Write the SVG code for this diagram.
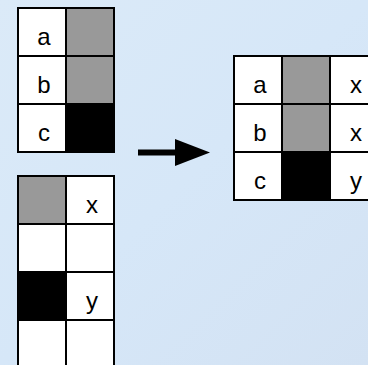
<svg xmlns="http://www.w3.org/2000/svg" width="368" height="365" viewBox="0 0 368 365">
<defs>
<linearGradient id="bg" x1="0" y1="0" x2="1" y2="1">
<stop offset="0" stop-color="#dbeaf8"/>
<stop offset="0.5" stop-color="#d6e7f8"/>
<stop offset="1" stop-color="#d3e2f3"/>
</linearGradient>
<style>
.c{stroke:#000;stroke-width:2}
.w{fill:#fff}
.g{fill:#999}
.k{fill:#000}
.t{font-family:"Comic Sans MS","Liberation Sans",sans-serif;font-size:24px;text-anchor:middle;fill:#000}
</style>
</defs>
<rect width="368" height="365" fill="url(#bg)"/>
<g id="tableA">
<rect class="c w" x="18" y="8" width="48" height="48"/>
<rect class="c g" x="66" y="8" width="48" height="48"/>
<rect class="c w" x="18" y="56" width="48" height="48"/>
<rect class="c g" x="66" y="56" width="48" height="48"/>
<rect class="c w" x="18" y="104" width="48" height="48"/>
<rect class="c k" x="66" y="104" width="48" height="48"/>
<text class="t" x="44" y="44.5">a</text>
<text class="t" x="44" y="92.5">b</text>
<text class="t" x="44" y="140.5">c</text>
</g>
<g id="tableB">
<rect class="c g" x="18" y="176" width="48" height="48"/>
<rect class="c w" x="66" y="176" width="48" height="48"/>
<rect class="c w" x="18" y="224" width="48" height="48"/>
<rect class="c w" x="66" y="224" width="48" height="48"/>
<rect class="c k" x="18" y="272" width="48" height="48"/>
<rect class="c w" x="66" y="272" width="48" height="48"/>
<rect class="c w" x="18" y="320" width="48" height="48"/>
<rect class="c w" x="66" y="320" width="48" height="48"/>
<text class="t" x="92" y="212.5">x</text>
<text class="t" x="92" y="308.5">y</text>
</g>
<g id="tableC">
<rect class="c w" x="234" y="56" width="48" height="48"/>
<rect class="c g" x="282" y="56" width="48" height="48"/>
<rect class="c w" x="330" y="56" width="48" height="48"/>
<rect class="c w" x="234" y="104" width="48" height="48"/>
<rect class="c g" x="282" y="104" width="48" height="48"/>
<rect class="c w" x="330" y="104" width="48" height="48"/>
<rect class="c w" x="234" y="152" width="48" height="48"/>
<rect class="c k" x="282" y="152" width="48" height="48"/>
<rect class="c w" x="330" y="152" width="48" height="48"/>
<text class="t" x="260" y="92.5">a</text>
<text class="t" x="260" y="140.5">b</text>
<text class="t" x="260" y="188.5">c</text>
<text class="t" x="356" y="92.5">x</text>
<text class="t" x="356" y="140.5">x</text>
<text class="t" x="356" y="188.5">y</text>
</g>
<g id="connectors">
<line x1="138" y1="152.5" x2="177" y2="152.5" stroke="#000" stroke-width="6"/>
<polygon points="175,139 210,152.5 175,166" fill="#000"/>
</g>
</svg>
